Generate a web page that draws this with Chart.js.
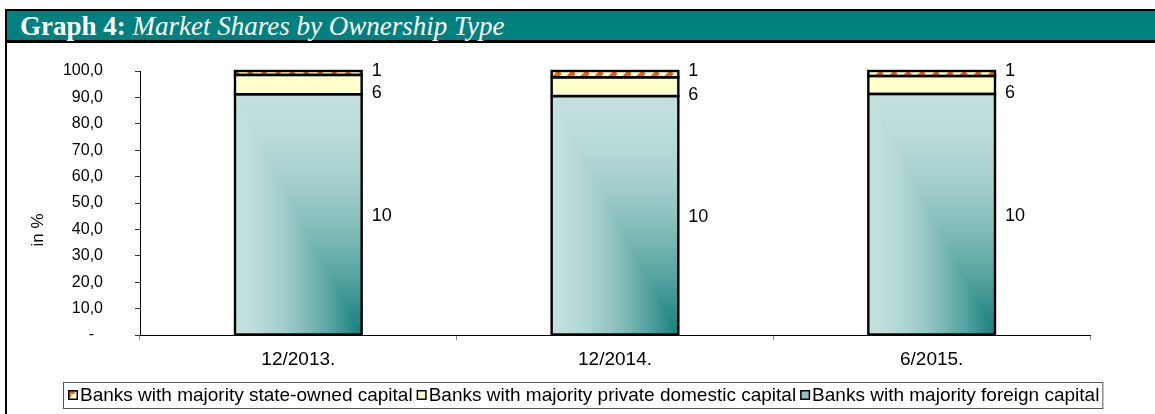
<!DOCTYPE html>
<html>
<head>
<meta charset="utf-8">
<script src="https://cdn.jsdelivr.net/npm/chart.js@4.4.0/dist/chart.umd.min.js"></script>
<style>
  html, body { margin: 0; padding: 0; background: #fff; }
  #page { position: relative; width: 1155px; height: 414px; overflow: hidden; background: #fff; }
  #frame { position: absolute; left: 5px; top: 9px; width: 1200px; height: 450px;
           border-left: 2px solid #000; border-top: 2px solid #000; }
  #head { position: absolute; left: 7px; top: 11px; width: 1200px; height: 29px;
          background: #00807e; border-bottom: 3px solid #000; color: #fff;
          font-family: "Liberation Serif", "Times New Roman", serif; font-size: 27px;
          line-height: 30px; padding-left: 13px; box-sizing: content-box; white-space: nowrap; }
  #head b { font-weight: bold; }
  #head i { font-style: italic; }
  #wrap { position: absolute; left: 0; top: 44px; width: 1155px; height: 370px; }
</style>
</head>
<body>
<div id="page">
  <div id="frame"></div>
  <div id="head"><b>Graph 4:</b> <i>Market Shares by Ownership Type</i></div>
  <div id="wrap"><canvas id="c" width="1155" height="370"></canvas></div>
</div>
<script>
const periods = ['12/2013.', '12/2014.', '6/2015.'];

// market shares, in % (stacked bottom to top)
const foreignShare  = [91.2, 90.5, 91.3];
const domesticShare = [7.3, 7.1, 6.8];
const stateShare    = [1.5, 2.4, 1.9];

// number of banks shown beside each segment
const foreignBanks  = [10, 10, 10];
const domesticBanks = [6, 6, 6];
const stateBanks    = [1, 1, 1];

const yTicks = [0, 10, 20, 30, 40, 50, 60, 70, 80, 90, 100];
const yTitle = 'in %';

const seriesNames = [
  'Banks with majority foreign capital',
  'Banks with majority private domestic capital',
  'Banks with majority state-owned capital',
];

const LIGHT = [194, 224, 222];
const DARK  = [21, 127, 123];
const FONT = '"Liberation Sans", Arial, sans-serif';

// orange dashed hatch on pale yellow
function hatchPattern(ctx) {
  const t = document.createElement('canvas');
  t.width = 14; t.height = 14;
  const g = t.getContext('2d');
  g.fillStyle = '#ffffd6';
  g.fillRect(0, 0, 14, 14);
  g.strokeStyle = '#e8620f';
  g.lineWidth = 5;
  for (let k = -14; k <= 28; k += 14) {
    g.beginPath();
    g.moveTo(k, 14);
    g.lineTo(k + 14, 0);
    g.stroke();
  }
  return ctx.createPattern(t, 'repeat');
}

// gradient that darkens towards the bottom-right corner
const cornerCache = {};
function cornerImage(w, h) {
  const key = w + 'x' + h;
  if (cornerCache[key]) return cornerCache[key];
  const c = document.createElement('canvas');
  c.width = w; c.height = h;
  const g = c.getContext('2d');
  const img = g.createImageData(w, h);
  for (let py = 0; py < h; py++) {
    for (let px = 0; px < w; px++) {
      const dx = (w - 1 - px) / Math.max(1, w - 1);
      const dy = (h - 1 - py) / Math.max(1, h - 1);
      const d = Math.pow(1 - Math.max(dx, dy), 1.7);
      const i = (py * w + px) * 4;
      img.data[i]     = LIGHT[0] + (DARK[0] - LIGHT[0]) * d;
      img.data[i + 1] = LIGHT[1] + (DARK[1] - LIGHT[1]) * d;
      img.data[i + 2] = LIGHT[2] + (DARK[2] - LIGHT[2]) * d;
      img.data[i + 3] = 255;
    }
  }
  g.putImageData(img, 0, 0);
  cornerCache[key] = c;
  return c;
}

const cornerFill = {
  id: 'cornerFill',
  beforeDatasetDraw(chart, args) {
    if (args.index !== 0) return;
    const ctx = chart.ctx;
    args.meta.data.forEach((bar) => {
      const { x, y, base, width } = bar.getProps(['x', 'y', 'base', 'width'], true);
      const h = base - y;
      ctx.drawImage(cornerImage(Math.round(width), Math.round(h)), x - width / 2, y, width, h);
    });
  },
};

// black outline round every segment, stroked on the edge so thin slices stay visible
const segmentOutline = {
  id: 'segmentOutline',
  afterDatasetsDraw(chart) {
    const ctx = chart.ctx;
    ctx.save();
    ctx.strokeStyle = '#000';
    ctx.lineWidth = 2.4;
    chart.data.datasets.forEach((d, di) => {
      chart.getDatasetMeta(di).data.forEach((bar) => {
        const { x, y, base, width } = bar.getProps(['x', 'y', 'base', 'width'], true);
        ctx.strokeRect(x - width / 2, y, width, base - y);
      });
    });
    ctx.restore();
  },
};

const countLabels = {
  id: 'countLabels',
  afterDatasetsDraw(chart) {
    const ctx = chart.ctx;
    const counts = [foreignBanks, domesticBanks, stateBanks];
    ctx.save();
    ctx.font = '18px ' + FONT;
    ctx.fillStyle = '#000';
    ctx.textAlign = 'left';
    ctx.textBaseline = 'middle';
    counts.forEach((arr, di) => {
      chart.getDatasetMeta(di).data.forEach((bar, j) => {
        const { x, y, base, width } = bar.getProps(['x', 'y', 'base', 'width'], true);
        let ty = (y + base) / 2 + 2;
        if (di === 1) ty = base - 1;
        if (di === 2) ty = y;
        ctx.fillText(String(arr[j]), x + width / 2 + 10, ty);
      });
    });
    ctx.restore();
  },
};

// rotated axis caption, sitting a little below the middle of the axis
const axisCaption = {
  id: 'axisCaption',
  afterDraw(chart) {
    const ctx = chart.ctx;
    const a = chart.chartArea;
    ctx.save();
    ctx.translate(38, (a.top + a.bottom) / 2 + 27);
    ctx.rotate(-Math.PI / 2);
    ctx.font = '17px ' + FONT;
    ctx.fillStyle = '#000';
    ctx.textAlign = 'center';
    ctx.textBaseline = 'middle';
    ctx.fillText(yTitle, 0, 0);
    ctx.restore();
  },
};

// boxed legend row under the axis: marker squares sit right against their text
const boxedLegend = {
  id: 'boxedLegend',
  afterDraw(chart) {
    const ctx = chart.ctx;
    const items = chart.data.datasets.map((d, i) => ({ text: d.label, fill: legendFills[i] })).reverse();
    const mark = 10, gap = 2, space = 4;
    ctx.save();
    ctx.font = '19px ' + FONT;
    const widths = items.map((it) => mark + gap + ctx.measureText(it.text).width);
    const total = widths.reduce((a, b) => a + b, 0) + space * (items.length - 1);
    const cy = chart.chartArea.bottom + 60;
    let x = Math.round(chart.width / 2 + 6 - total / 2);
    ctx.strokeStyle = '#555';
    ctx.lineWidth = 1;
    ctx.strokeRect(x - 4.5, cy - 12.5, total + 8, 26);
    ctx.textBaseline = 'middle';
    ctx.textAlign = 'left';
    items.forEach((it, i) => {
      ctx.fillStyle = it.fill;
      ctx.fillRect(x, cy - 5, mark, mark);
      ctx.strokeStyle = '#000';
      ctx.lineWidth = 1.5;
      ctx.strokeRect(x + 0.75, cy - 4.25, mark - 1.5, mark - 1.5);
      ctx.fillStyle = '#000';
      ctx.fillText(it.text, x + mark + gap, cy + 1);
      x += widths[i] + space;
    });
    ctx.restore();
  },
};

const canvas = document.getElementById('c');
const ctx = canvas.getContext('2d');
const hatch = hatchPattern(ctx);
const legendFills = ['#8fc0bf', '#ffffcc', hatch];

new Chart(canvas, {
  type: 'bar',
  data: {
    labels: periods,
    datasets: [
      { label: seriesNames[0], data: foreignShare,  backgroundColor: 'rgba(0,0,0,0)' },
      { label: seriesNames[1], data: domesticShare, backgroundColor: '#ffffcc' },
      { label: seriesNames[2], data: stateShare,    backgroundColor: hatch },
    ].map((d) => ({ ...d, borderWidth: 0, categoryPercentage: 1, barPercentage: 0.4 })),
  },
  options: {
    responsive: false,
    animation: false,
    devicePixelRatio: 1,
    layout: { padding: { left: 9, right: 65, top: 27, bottom: 30 } },
    plugins: {
      tooltip: { enabled: false },
      legend: { display: false },
    },
    scales: {
      x: {
        stacked: true,
        grid: { offset: true, drawOnChartArea: false, tickLength: 5, color: '#888', lineWidth: 1 },
        border: { color: '#000', width: 1 },
        ticks: { color: '#000', padding: 8, font: { family: FONT, size: 19 } },
        afterFit(s) { s.height = 49; },
      },
      y: {
        stacked: true,
        min: 0,
        max: 100,
        afterBuildTicks(s) { s.ticks = yTicks.map((v) => ({ value: v })); },
        grid: { drawOnChartArea: false, tickLength: 5, color: '#333' },
        border: { color: '#000', width: 1 },
        ticks: {
          color: '#000',
          padding: 32,
          font: { family: FONT, size: 16 },
          callback: (v) => (v === 0 ? '-  ' : v.toFixed(1).replace('.', ',')),
        },
        afterFit(s) {
          s.width = 131;
          s.paddingTop = 10;
          s.paddingBottom = 10;
        },
      },
    },
  },
  plugins: [cornerFill, segmentOutline, countLabels, axisCaption, boxedLegend],
});
</script>
</body>
</html>
